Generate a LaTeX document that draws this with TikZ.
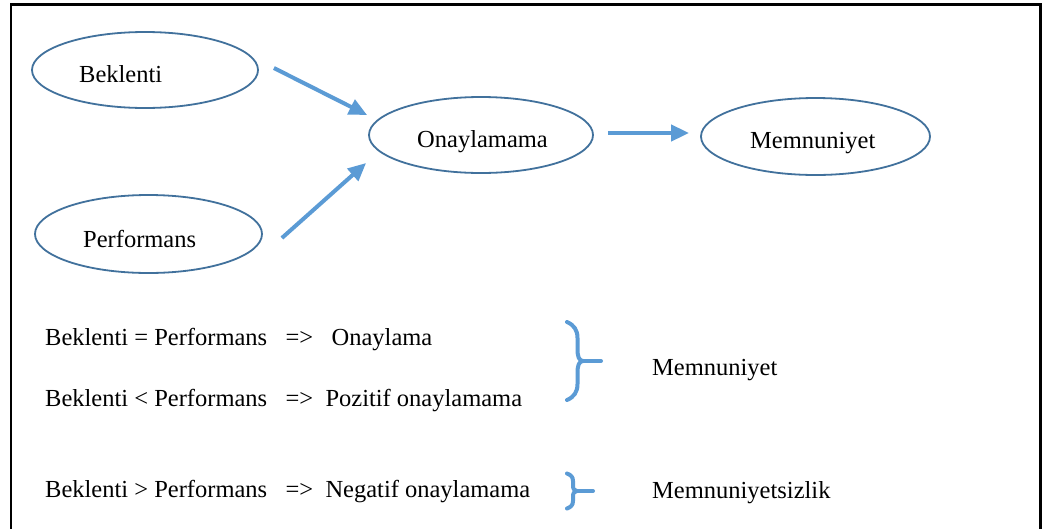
\documentclass[tikz,border=0pt]{standalone}
\usepackage{fontspec}
\setmainfont{Liberation Serif}
\usetikzlibrary{arrows.meta,shapes.geometric}
\definecolor{flowblue}{RGB}{91,155,213}
\definecolor{ovalblue}{RGB}{65,113,156}
\begin{document}
\begin{tikzpicture}[x=1pt,y=-1pt,
  oval/.style={draw=ovalblue, line width=1.8pt, ellipse, inner sep=0pt,
               minimum width=226pt, minimum height=76pt},
  lbl/.style={inner sep=0pt, anchor=base west, font=\fontsize{24.5}{29}\selectfont},
  flow/.style={draw=flowblue, line width=4pt, -{Triangle[length=18pt,width=16pt]}},
  bracestyle/.style={draw=flowblue, line width=4pt, line cap=round, line join=round}]
\useasboundingbox (0,0) rectangle (1055,528);
\fill[white] (0,0) rectangle (1055,528);

% outer frame (open at the bottom edge)
\draw[line width=2.5pt] (11,560) -- (11,4.5) -- (1040.7,4.5) -- (1040.7,560);

% model ovals
\node[oval] (bek) at (145,70) {};
\node[oval, minimum width=227pt, minimum height=78pt] (perf) at (148.5,234) {};
\node[oval, minimum width=224pt] (ona) at (481,135) {};
\node[oval, minimum width=229pt, minimum height=77pt] (mem) at (815.5,136.5) {};

\node[lbl] (bekt) at (79,82) {Beklenti};
\node[lbl] (perft) at (83,247) {Performans};
\node[lbl] (onat) at (417,147) {Onaylamama};
\node[lbl] (memt) at (750,148) {Memnuniyet};

% flows between the ovals
\coordinate (a1s) at ([shift={(15,-2)}]bek.east);
\coordinate (a1e) at ([shift={(-1,-20)}]ona.west);
\coordinate (a2s) at ([shift={(19,4)}]perf.east);
\coordinate (a2e) at ([shift={(-2,28)}]ona.west);
\coordinate (a3s) at ([shift={(14,-2)}]ona.east);
\coordinate (a3e) at ([shift={(-11,-3.5)}]mem.west);
\draw[flow] (a1s) -- (a1e);
\draw[flow] (a2s) -- (a2e);
\draw[flow] (a3s) -- (a3e);

% comparison rules
\node[lbl] (r1) at (45,345) {Beklenti = Performans\ \ \ =>\ \ \ Onaylama};
\node[lbl] (r2) at (45,406) {Beklenti < Performans\ \ \ =>\ \ Pozitif onaylamama};
\node[lbl] (r3) at (45,497) {Beklenti > Performans\ \ \ =>\ \ Negatif onaylamama};

% braces grouping the rules
\draw[bracestyle] (567,322) .. controls (574,325) and (577.5,330) .. (577.5,338)
  -- (577.5,350) .. controls (577.5,356) and (579,361) .. (583,361)
  .. controls (579,361) and (577.5,366) .. (577.5,372)
  -- (577.5,384) .. controls (577.5,392) and (574,397) .. (567,400);
\draw[bracestyle] (583,361) -- (601,361);

\draw[bracestyle] (567,473.5) .. controls (571,475) and (573,477) .. (573,481)
  -- (573,485) .. controls (573,489) and (574,491) .. (577,491)
  .. controls (574,491) and (573,493) .. (573,497)
  -- (573,501) .. controls (573,505) and (571,507) .. (567,508.5);
\draw[bracestyle] (577,491) -- (593,491);

\node[lbl] (sat) at (652,375) {Memnuniyet};
\node[lbl] (dis) at (652,498) {Memnuniyetsizlik};
\end{tikzpicture}
\end{document}
